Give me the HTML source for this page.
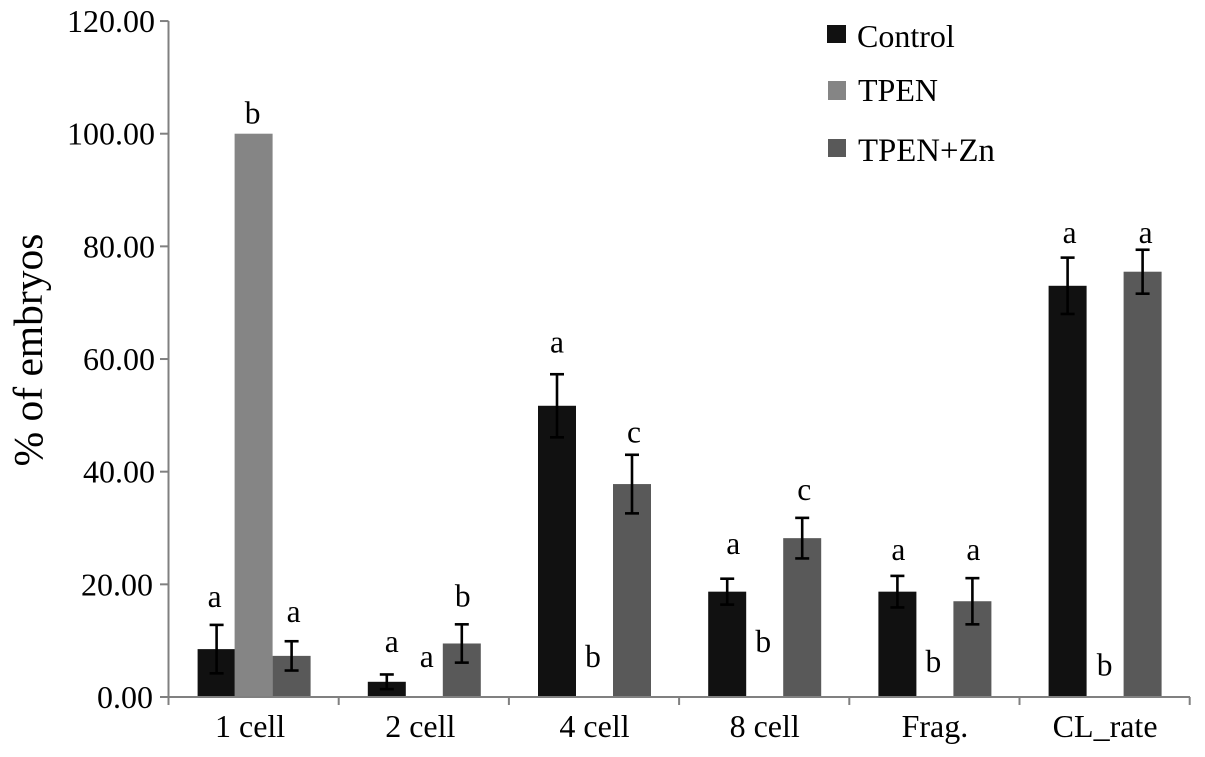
<!DOCTYPE html>
<html>
<head>
<meta charset="utf-8">
<title>% of embryos chart</title>
<style>
html,body{margin:0;padding:0;background:#fff;width:1205px;height:757px;overflow:hidden}
svg{display:block}
text{font-family:"Liberation Serif",serif;fill:#000}
</style>
</head>
<body>
<svg id="chart" xmlns="http://www.w3.org/2000/svg" width="1205" height="757" viewBox="0 0 1205 757">
  <text x="0" y="0" transform="translate(42,350) rotate(-90)" text-anchor="middle" font-size="41.5">% of embryos</text>
  <g>
    <g>
      <rect x="827" y="25" width="19" height="18" fill="#111111"/>
      <text x="857" y="47" font-size="32">Control</text>
    </g>
    <g>
      <rect x="828" y="81" width="18" height="19" fill="#858585"/>
      <text x="858" y="101" font-size="32">TPEN</text>
    </g>
    <g>
      <rect x="828" y="139" width="18" height="18" fill="#595959"/>
      <text x="858" y="161" font-size="32.8">TPEN+Zn</text>
    </g>
  </g>
</svg>
<script>
const categories = ["1 cell", "2 cell", "4 cell", "8 cell", "Frag.", "CL_rate"];
const yTicks = [0, 20, 40, 60, 80, 100, 120];
const controlValues = [8.5, 2.7, 51.7, 18.7, 18.7, 73];
const tpenValues = [100, 0, 0, 0, 0, 0];
const zincValues = [7.3, 9.5, 37.8, 28.2, 17, 75.5];
const controlErrors = [4.3, 1.3, 5.6, 2.3, 2.8, 5];
const zincErrors = [2.6, 3.4, 5.2, 3.6, 4.1, 3.9];
const controlLetters = ["a", "a", "a", "a", "a", "a"];
const tpenLetters = ["b", "a", "b", "b", "b", "b"];
const zincLetters = ["a", "b", "c", "c", "a", "a"];
const controlLetterValues = [16, 8, 61.2, 25.4, 24.3, 80.6];
const tpenLetterValues = [101.8, 5.3, 5.3, 8, 4.4, 3.8];
const zincLetterValues = [13.3, 16.1, 45.2, 35, 24.3, 80.6];

const svgNS = "http://www.w3.org/2000/svg";
const svg = document.getElementById("chart");
const plotLeft = 168.5, plotRight = 1190, y0 = 697, pxPerUnit = 5.633, groupWidth = 170.2, barWidth = 38;
const yScale = v => y0 - v * pxPerUnit;
const xCenter = i => plotLeft + groupWidth * (i + 0.5);
const seriesOffset = [-37, 0, 38];
const seriesColor = ["#111111", "#858585", "#595959"];
const seriesKey = ["control", "tpen", "tpen-zn"];
const seriesValues = [controlValues, tpenValues, zincValues];
const seriesErrors = [controlErrors, null, zincErrors];
const seriesLetters = [controlLetters, tpenLetters, zincLetters];
const seriesLetterValues = [controlLetterValues, tpenLetterValues, zincLetterValues];

function letterNudge(s, i) {
  const layout = [[-2, 5, 0, 6, 1, 2], [-1, 3, -1, -1, -1, 0], [2, 1, 2, 2, 1, 3]];
  return layout[s][i];
}
function categoryNudge(i) {
  return i < 2 ? -3.5 : 0.5;
}

function make(tag, attrs, text) {
  const el = document.createElementNS(svgNS, tag);
  for (const k in attrs) el.setAttribute(k, attrs[k]);
  if (text !== undefined) el.textContent = text;
  svg.appendChild(el);
  return el;
}

categories.forEach((cat, i) => {
  seriesValues.forEach((vals, s) => {
    const v = vals[i];
    const cx = xCenter(i) + seriesOffset[s];
    if (v > 0) {
      const bar = make("rect", {x: cx - barWidth / 2, y: yScale(v), width: barWidth, height: y0 - yScale(v), fill: seriesColor[s]});
      
      
    }
  });
});

const axisY = make("line", {x1: plotLeft, y1: yScale(120), x2: plotLeft, y2: y0 + 8, stroke: "#808080", "stroke-width": 2});


const axisX = make("line", {x1: 160, y1: y0, x2: plotRight, y2: y0, stroke: "#808080", "stroke-width": 2});



yTicks.forEach(t => {
  const tick = make("line", {x1: 160, y1: yScale(t), x2: plotLeft, y2: yScale(t), stroke: "#808080", "stroke-width": 2});
  
  
  const label = make("text", {x: t >= 40 ? 155 : 153, y: yScale(t) + 11, "text-anchor": "end", "font-size": 32}, t.toFixed(2));
  
  
});

for (let i = 0; i <= categories.length; i++) {
  const tick = make("line", {x1: plotLeft + groupWidth * i, y1: y0, x2: plotLeft + groupWidth * i, y2: y0 + 8, stroke: "#808080", "stroke-width": 2});
  
  
}

categories.forEach((cat, i) => {
  const label = make("text", {x: xCenter(i) + categoryNudge(i), y: 737, "text-anchor": "middle", "font-size": 32}, cat);
  
  
});

categories.forEach((cat, i) => {
  seriesValues.forEach((vals, s) => {
    const cx = xCenter(i) + seriesOffset[s];
    const errs = seriesErrors[s];
    if (errs) {
      const top = yScale(vals[i] + errs[i]);
      const bottom = yScale(vals[i] - errs[i]);
      const stem = make("line", {x1: cx, y1: top, x2: cx, y2: bottom, stroke: "#000", "stroke-width": 2.6});
      
      
      const capTop = make("line", {x1: cx - 7, y1: top, x2: cx + 7, y2: top, stroke: "#000", "stroke-width": 2.6});
      
      
      const capBottom = make("line", {x1: cx - 7, y1: bottom, x2: cx + 7, y2: bottom, stroke: "#000", "stroke-width": 2.6});
      
      
    }
    const letter = make("text", {x: cx + letterNudge(s, i), y: yScale(seriesLetterValues[s][i]), "text-anchor": "middle", "font-size": 31.5}, seriesLetters[s][i]);
    
    
  });
});
</script>
</body>
</html>
